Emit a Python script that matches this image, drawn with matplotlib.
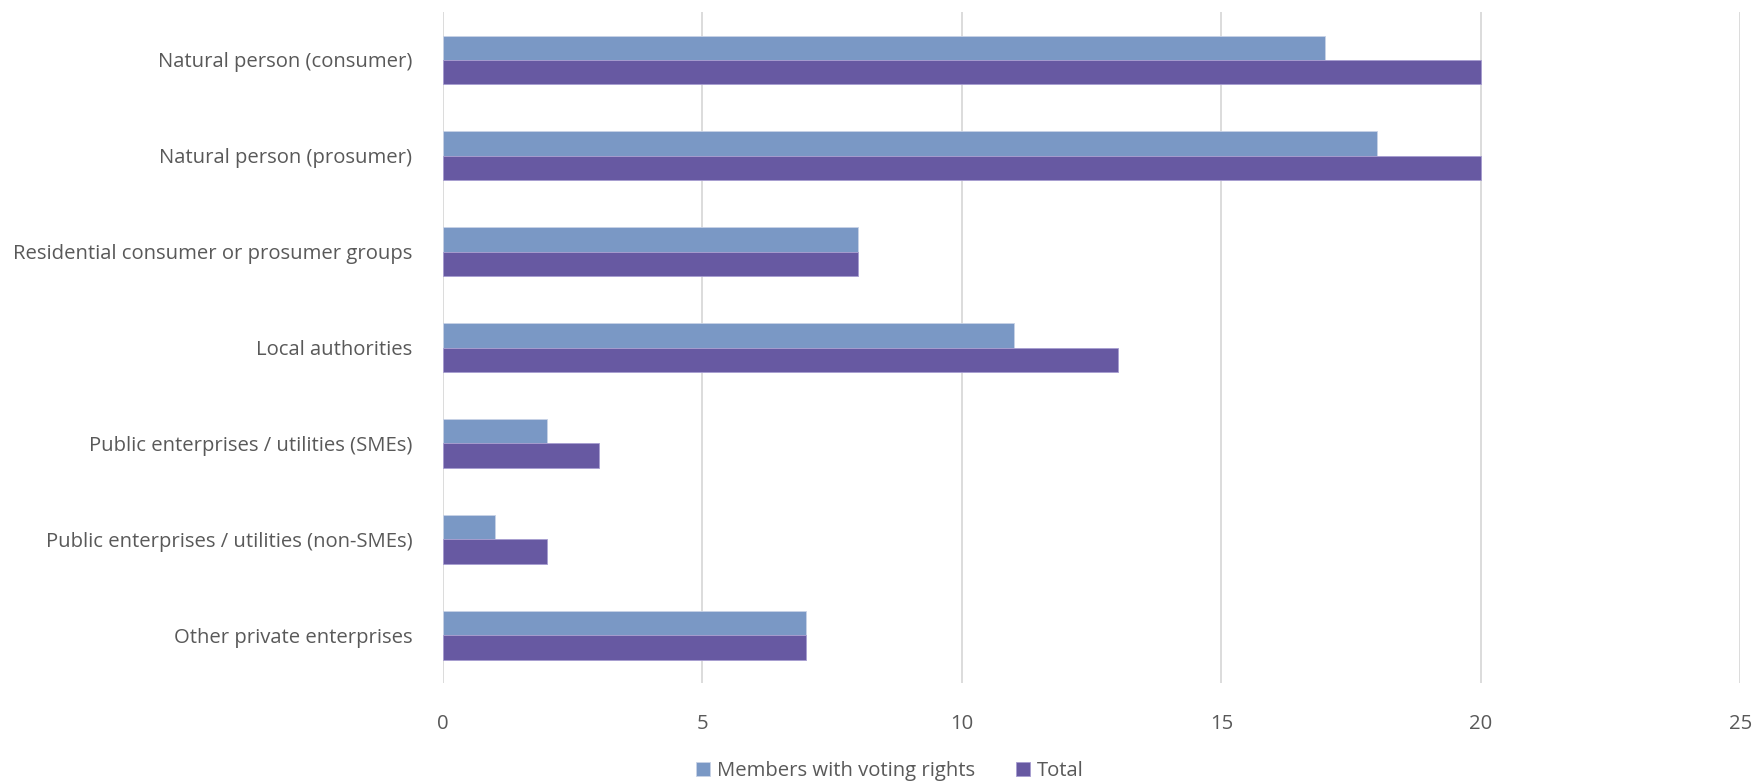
import matplotlib.pyplot as plt
import numpy as np

categories = [
    "Natural person (consumer)",
    "Natural person (prosumer)",
    "Residential consumer or prosumer groups",
    "Local authorities",
    "Public enterprises / utilities (SMEs)",
    "Public enterprises / utilities (non-SMEs)",
    "Other private enterprises",
]
voting = [17, 18, 8, 11, 2, 1, 7]
total = [20, 20, 8, 13, 3, 2, 7]
xticks = [0, 5, 10, 15, 20, 25]

plt.rcParams["font.family"] = ["Open Sans", "DejaVu Sans"]

fig = plt.figure(figsize=(17.58, 7.82), dpi=100)
ax = fig.add_axes([0.252, 0.1266, 0.738, 0.858])

y = np.arange(len(categories))
h = 0.255
ax.barh(y - h / 2, voting, height=h, color="#7A98C5", edgecolor="#C9D3E6",
        linewidth=0.6, label="Members with voting rights", zorder=3)
ax.barh(y + h / 2, total, height=h, color="#6759A2", edgecolor="#A79DD0",
        linewidth=0.6, label="Total", zorder=3)

ax.set_ylim(len(categories) - 0.5, -0.5)
ax.set_xlim(0, 25)
ax.set_xticks(xticks)
ax.set_yticks(y)
ax.set_yticklabels(categories)
ax.tick_params(length=0, labelsize=14.6, colors="#595959")
ax.tick_params(axis="y", pad=22)
ax.tick_params(axis="x", pad=22)
ax.grid(axis="x", color="#D9D9D9", linewidth=1.3, zorder=0)
for s in ax.spines.values():
    s.set_visible(False)

leg = fig.legend(loc="center", bbox_to_anchor=(0.506, 0.014), ncol=2,
                 frameon=False, fontsize=14.6, handlelength=0.7, handleheight=0.7,
                 columnspacing=2.0, handletextpad=0.35)
for t in leg.get_texts():
    t.set_color("#595959")

fig.savefig("out.png", dpi=100)
